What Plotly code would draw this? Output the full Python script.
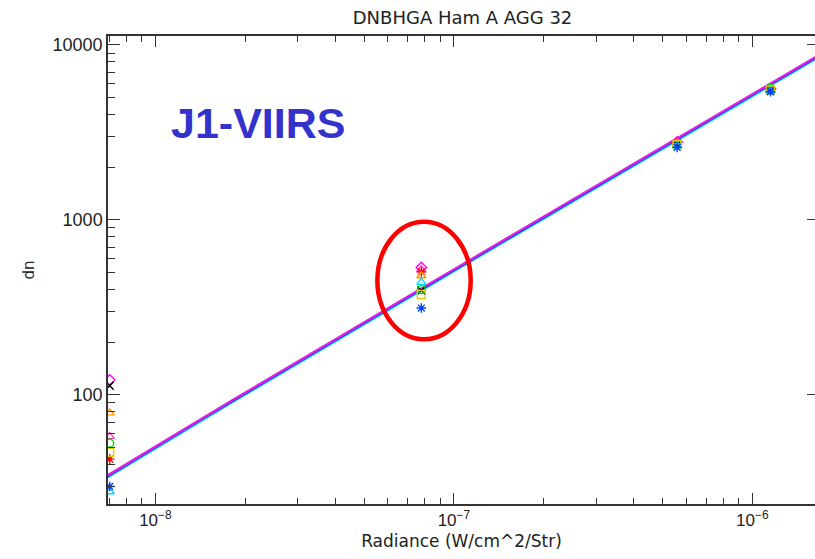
import numpy as np
import plotly.graph_objects as go

# ---------------- data ----------------
radiance = [7.03e-9, 7.78e-8, 5.6e-7, 1.15e-6]

series_names = ["magenta", "pink", "red", "orange", "black", "green", "yellow", "cyan", "blue"]
series_colors = ["#FF00FF", "#FF40C0", "#FF0000", "#FF9900", "#000000", "#00E000", "#E6D000", "#00D8FF", "#0040FF"]
series_symbols = ["diamond-open", "triangle-up-open", "asterisk-open", "triangle-up-open", "x-thin-open",
                  "circle-open", "square-open", "triangle-up-open", "asterisk-open"]
series_dn = [
    [122, 535, 2790, 5620],
    [58, 520, 2770, 5600],
    [43, 505, 2760, 5580],
    [79, 480, 2750, 5560],
    [113, 395, 2700, 5500],
    [53, 400, 2720, 5640],
    [47, 375, 2700, 5520],
    [28, 440, 2650, 5450],
    [30, 314, 2600, 5400],
]

# linear fits dn = gain * radiance + offset
fit_colors = ["#00E5FF", "#1E3CFF", "#E020E0"]
fit_gains = [5.10e9, 5.17e9, 5.24e9]
fit_offsets = [-1.5, -1.5, -1.5]

x_tick_vals = [1e-8, 1e-7, 1e-6]
x_tick_text = ["10<sup>\u22128</sup>", "10<sup>\u22127</sup>", "10<sup>\u22126</sup>"]
y_tick_vals = [100, 1000, 10000]
y_tick_text = ["100", "1000", "10000"]

x_range = [-8.1588, -5.790]
y_range = [1.377, 4.0514]

# minor tick positions (2..9 within each decade)
x_minor = [m * 10.0 ** e for e in range(-9, -5) for m in range(2, 10)]
y_minor = [m * 10.0 ** e for e in range(1, 5) for m in range(2, 10)]

# ---------------- figure ----------------
fig = go.Figure()

xf = np.logspace(x_range[0] - 0.01, x_range[1] + 0.01, 50)
for c, g, o in zip(fit_colors, fit_gains, fit_offsets):
    fig.add_trace(go.Scatter(x=xf, y=g * xf + o, mode="lines",
                             line=dict(color=c, width=2.2), showlegend=False, hoverinfo="skip"))

for name, col, sym, dn in zip(series_names, series_colors, series_symbols, series_dn):
    fig.add_trace(go.Scatter(x=radiance, y=dn, mode="markers", name=name,
                             marker=dict(symbol=sym, size=8, color=col, line=dict(color=col, width=1.4)),
                             showlegend=False))

# dummy trace on right axis to show right-side ticks
fig.add_trace(go.Scatter(x=[radiance[1]], y=[1000], yaxis="y2", mode="markers",
                         marker=dict(opacity=0), showlegend=False, hoverinfo="skip"))

axis_col = "#333333"
label_font = "DejaVu Sans, Verdana, sans-serif"
tick_font = "Liberation Sans, Arial, sans-serif"

fig.update_layout(
    width=815, height=559,
    margin=dict(l=108, r=0, t=36, b=55),
    paper_bgcolor="white", plot_bgcolor="white",
    font=dict(family=tick_font, size=17, color="#222222"),
    title=dict(text="DNBHGA Ham A AGG 32", x=0.5675, xanchor="center", y=0.968, yanchor="middle",
               font=dict(family=label_font, size=18, color="#222222")),
    xaxis=dict(type="log", range=x_range, showgrid=False, zeroline=False,
               showline=True, linecolor=axis_col, linewidth=1.5, mirror="ticks",
               ticks="inside", ticklen=11, tickwidth=1.2, tickcolor=axis_col,
               tickvals=x_tick_vals, ticktext=x_tick_text,
               minor=dict(ticks="inside", ticklen=6, tickcolor=axis_col, tickwidth=1.2,
                          showgrid=False, tickvals=x_minor),
               title=dict(text="Radiance (W/cm^2/Str)", standoff=6,
                          font=dict(family=label_font, size=17)),
               tickfont=dict(size=17)),
    yaxis=dict(type="log", range=y_range, showgrid=False, zeroline=False,
               showline=True, linecolor=axis_col, linewidth=1.5, mirror=False,
               ticks="inside", ticklen=12, tickwidth=1.2, tickcolor=axis_col,
               tickvals=y_tick_vals, ticktext=y_tick_text,
               minor=dict(ticks="inside", ticklen=7, tickcolor=axis_col, tickwidth=1.2,
                          showgrid=False, tickvals=y_minor),
               title=dict(text="dn", standoff=14, font=dict(family=label_font, size=15)),
               tickfont=dict(size=18)),
    yaxis2=dict(type="log", range=y_range, overlaying="y", side="right", showgrid=False,
                zeroline=False, showline=False, ticks="inside", ticklen=8, tickwidth=1.2,
                tickcolor=axis_col, tickvals=y_tick_vals, showticklabels=False),
)

fig.add_annotation(text="<b>J1-VIIRS</b>", xref="paper", yref="paper", x=0.086, y=0.815,
                   xanchor="left", yanchor="middle", showarrow=False,
                   font=dict(family="Liberation Sans, Arial, sans-serif", size=43, color="#3333CC"))

fig.add_shape(type="circle", xref="paper", yref="paper",
              x0=0.381, x1=0.513, y0=0.352, y1=0.603,
              line=dict(color="#FF0000", width=4.5))

fig.write_html("out.html")
